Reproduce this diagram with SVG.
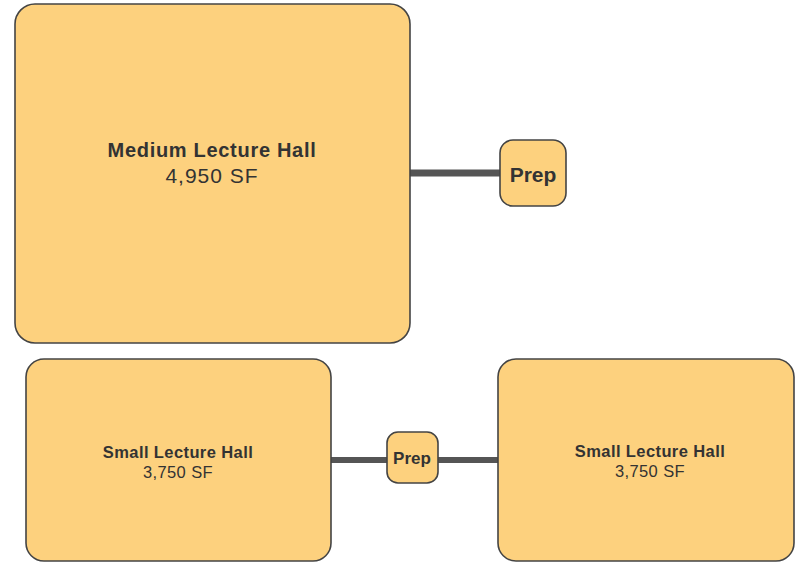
<svg xmlns="http://www.w3.org/2000/svg" width="796" height="562" viewBox="0 0 796 562">
<style>
.box{fill:#FDD17E;stroke:#444;stroke-width:1.6}
.t{font-family:"Liberation Sans",Arial,sans-serif;fill:#333;text-anchor:middle}
.b{font-weight:bold}
.con{stroke:#555;fill:none}
</style>
<rect width="796" height="562" fill="#fff"/>
<g id="connectors">
<line class="con" x1="410" y1="173" x2="500" y2="173" stroke-width="7"/>
<line class="con" x1="331" y1="460" x2="387" y2="460" stroke-width="6"/>
<line class="con" x1="438" y1="460" x2="498" y2="460" stroke-width="6"/>
</g>
<g id="medium-hall">
<rect class="box" x="15" y="4" width="395" height="339" rx="20"/>
<text class="t b" x="212" y="157" font-size="20" letter-spacing="0.7">Medium Lecture Hall</text>
<text class="t" x="212" y="183" font-size="21" letter-spacing="1">4,950 SF</text>
</g>
<g id="prep-top">
<rect class="box" x="500" y="140" width="66" height="66" rx="13"/>
<text class="t b" x="533" y="182" font-size="21">Prep</text>
</g>
<g id="small-hall-left">
<rect class="box" x="26" y="359" width="305" height="202" rx="18"/>
<text class="t b" x="178" y="458" font-size="16.5" letter-spacing="0.4">Small Lecture Hall</text>
<text class="t" x="178" y="478" font-size="16.5" letter-spacing="0.4">3,750 SF</text>
</g>
<g id="prep-bottom">
<rect class="box" x="387" y="432" width="51" height="51" rx="11"/>
<text class="t b" x="412" y="464" font-size="17">Prep</text>
</g>
<g id="small-hall-right">
<rect class="box" x="498" y="359" width="296" height="202" rx="18"/>
<text class="t b" x="650" y="457" font-size="16.5" letter-spacing="0.4">Small Lecture Hall</text>
<text class="t" x="650" y="477" font-size="16.5" letter-spacing="0.4">3,750 SF</text>
</g>
</svg>
